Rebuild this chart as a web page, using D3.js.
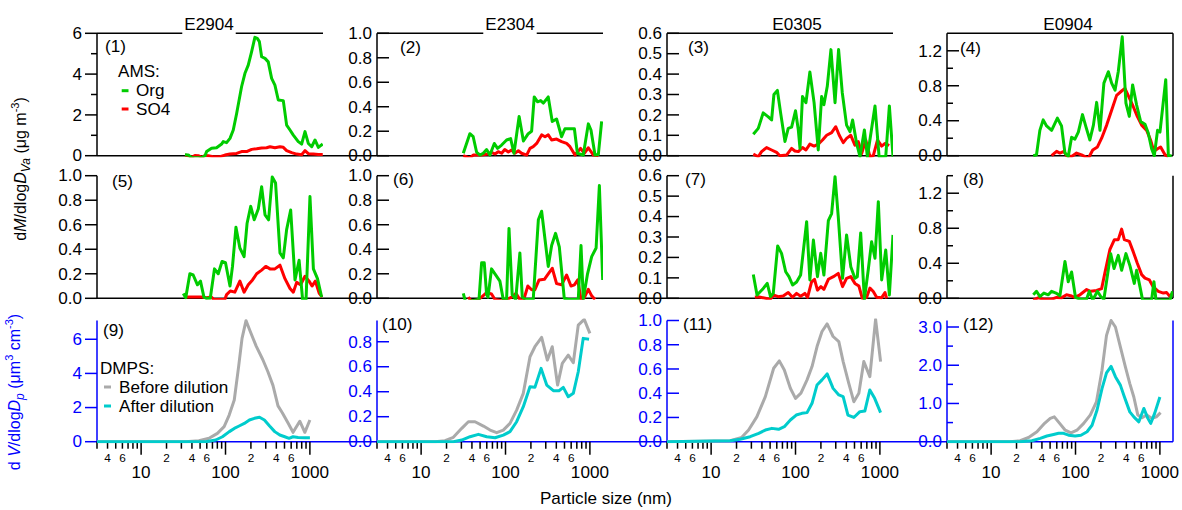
<!DOCTYPE html>
<html><head><meta charset="utf-8">
<script src="https://cdn.jsdelivr.net/npm/d3@7"></script>
<style>body{margin:0;background:#fff} text{font-family:"Liberation Sans",Arial,sans-serif}</style>
</head><body><svg id="c" width="1182" height="510"></svg>
<script>
// ---------------- data ----------------
const titles = ["E2904", "E2304", "E0305", "E0904"];
const panelLabels = ["(1)","(2)","(3)","(4)","(5)","(6)","(7)","(8)","(9)","(10)","(11)","(12)"];
const yMax = [6, 1, 0.6, 1.4, 1, 1, 0.6, 1.4, 7.1, 0.97, 1.0, 3.17];
const yMajor = [[0,2,4,6],[0,0.2,0.4,0.6,0.8,1],[0,0.1,0.2,0.3,0.4,0.5,0.6],[0,0.4,0.8,1.2],
  [0,0.2,0.4,0.6,0.8,1],[0,0.2,0.4,0.6,0.8,1],[0,0.1,0.2,0.3,0.4,0.5,0.6],[0,0.4,0.8,1.2],
  [0,2,4,6],[0,0.2,0.4,0.6,0.8],[0,0.2,0.4,0.6,0.8,1],[0,1,2,3]];
const yTickText = [["0","2","4","6"],["0.0","0.2","0.4","0.6","0.8","1.0"],["0.0","0.1","0.2","0.3","0.4","0.5","0.6"],["0.0","0.4","0.8","1.2"],
  ["0.0","0.2","0.4","0.6","0.8","1.0"],["0.0","0.2","0.4","0.6","0.8","1.0"],["0.0","0.1","0.2","0.3","0.4","0.5","0.6"],["0.0","0.4","0.8","1.2"],
  ["0","2","4","6"],["0.0","0.2","0.4","0.6","0.8"],["0.0","0.2","0.4","0.6","0.8","1.0"],["0.0","1.0","2.0","3.0"]];
const yMinor = [[1,3,5],[],[],[0.2,0.6,1.0],[],[],[],[0.2,0.6,1.0,1.4],[],[],[],[0.5,1.5,2.5]];
const xMinorLabels = [[4,"4"],[6,"6"],[20,"2"],[40,"4"],[60,"6"],[200,"2"],[400,"4"],[600,"6"]];
const xMajorLabels = [[10,"10"],[100,"100"],[1000,"1000"]];
const xMinorTicks = [3,4,5,6,7,8,9,20,30,40,50,60,70,80,90,200,300,400,500,600,700,800,900];

// AMS mass distributions [Dva nm, value]
const org1 = [[33.1,0.05],[36.2,0.04],[39.6,-0.1],[43.4,-0.1],[47.6,-0.1],[52.1,-0.1],[57.1,0],[59.7,0.2],[68.3,0.36],[78.3,0.39],[89.9,0.57],[94,0.69],[103,0.64],[113,0.85],[123.6,1.26],[135.5,2.07],[155,3.38],[170,4.04],[186,4.44],[204,5.1],[223,5.8],[238,5.75],[252,5.59],[268,4.85],[294,4.77],[321,4.6],[352,3.79],[385,3.46],[422,2.73],[484,2.7],[530,1.5],[581,1.26],[636,1.01],[728,0.69],[798,0.57],[875,1.18],[958,0.6],[1050,0.44],[1150,0.77],[1260,0.41],[1420,0.57]];
const so1 = [[33.1,0.03],[36.2,0],[39.6,-0.08],[43.4,0.01],[47.6,0],[52.1,-0.08],[57.1,0.01],[62.4,0],[71.4,-0.05],[85.8,-0.05],[98.4,0.03],[113,0.08],[135.5,0.11],[155,0.2],[178,0.2],[204,0.31],[234,0.34],[268,0.38],[307,0.39],[337,0.44],[385,0.39],[442,0.44],[484,0.41],[530,0.25],[608,0.15],[697,0.08],[798,0.05],[875,0.25],[958,0.1],[1100,0.08],[1260,0.06],[1420,0.06]];
const org2 = [[31.6,0.02],[37.8,0.18],[41.4,0.155],[45.4,0.03],[49.8,0.005],[54.5,0.02],[59.7,0.05],[65.3,0.005],[73.7,0.1],[80.5,0.06],[89.9,0.087],[103,0.128],[115,0.14],[126,0.02],[145,0.32],[163,0.12],[186,0.18],[204,0.2],[219,0.48],[240,0.44],[261,0.45],[281,0.43],[321,0.48],[358,0.28],[403,0.3],[462,0.155],[506,0.22],[581,0.22],[655,0.22],[711,0.02],[835,0.005],[958,0.26],[1030,0.21],[1150,0.005],[1260,0.01],[1378,0.28]];
const so2 = [[31.6,0],[37.8,-0.02],[41.4,0.005],[52,0.005],[62,0.014],[69,0.025],[75,0.014],[82,0.033],[90,0.02],[98,0.05],[108,0.03],[118,0.046],[129,0.02],[142,0.04],[155,0.02],[178,0.005],[195,0.06],[213,0.074],[234,0.1],[268,0.17],[294,0.155],[321,0.17],[352,0.128],[403,0.136],[462,0.115],[530,0.1],[581,0.074],[666,0.005],[775,0.06],[858,0.02],[958,0.065],[1100,0.005],[1260,0]];
const org3 = [[31.6,0.105],[36.2,0.134],[41.4,0.21],[47.6,0.19],[52.1,0.175],[55.5,0.3],[61,0.32],[66.6,0.21],[75,0.07],[82,0.134],[89.9,0.14],[100,0.22],[108,0.126],[113,0.036],[121,0.29],[133,0.26],[148,0.41],[166,0.26],[186,0.028],[204,0.29],[217,0.25],[238,0.34],[263,0.52],[294,0.26],[324,0.52],[358,0.31],[403,0.15],[442,0.118],[475,0.175],[530,0.06],[581,-0.005],[655,0.126],[711,-0.005],[875,0.244],[978,-0.005],[1173,-0.003],[1295,0.244],[1430,-0.005]];
const so3 = [[31.6,0.008],[36.2,-0.005],[39.6,0.02],[45.4,0.04],[52.1,0.028],[59.7,0.016],[65.3,0],[78.3,0.003],[89.9,0.036],[98.4,0.023],[108,0.02],[121,0.04],[133,0.028],[148,0.057],[166,0.047],[186,0.057],[209,0.077],[234,0.1],[268,0.113],[300,0.142],[330,0.1],[368,0.064],[403,0.085],[452,0.1],[506,0.052],[554,0.069],[608,0.011],[680,0.077],[762,-0.005],[835,0],[938,0.077],[1050,0.047],[1150,0.06],[1290,0.05]];
const org4 = [[31.6,0],[34.5,0.01],[37.8,0.29],[41.4,0.41],[45.4,0.34],[52.1,0.29],[61,0.43],[68.3,0.34],[75,0.03],[82,-0.01],[89.9,0.21],[98.4,0.19],[108,0.27],[121,0.47],[133,0.33],[148,0.18],[163,0.35],[178,0.61],[195,0.29],[217,0.83],[245,0.96],[268,0.83],[294,0.75],[321,0.96],[358,1.36],[396,0.6],[434,0.45],[475,0.81],[530,0.58],[592,0.39],[666,0.36],[728,0.26],[798,0.08],[858,0],[938,0.29],[1002,0.27],[1173,0.87],[1260,0],[1378,0]];
const so4 = [[52.1,0],[59.7,0.05],[65.3,0.03],[73,0.05],[78.3,0],[89.9,-0.01],[103,0.03],[118,0.01],[142,-0.03],[160,0.065],[182,0.1],[204,0.2],[234,0.35],[268,0.52],[307,0.69],[352,0.74],[385,0.77],[434,0.66],[484,0.56],[540,0.45],[608,0.35],[697,0.29],[775,0.18],[850,0.05],[938,0.08],[1020,0.1],[1150,0.01],[1260,-0.01]];
const org5 = [[31.6,0.04],[33.8,0.005],[37.8,0.2],[41.4,0.19],[46.5,0.11],[50.5,0.14],[55.5,0.01],[59.7,0],[66,0],[74,0.24],[82,0.2],[91,0.3],[100,0.29],[113,0.1],[121,0.26],[133,0.58],[148,0.41],[166,0.34],[180,0.61],[199,0.75],[219,0.64],[245,0.73],[268,0.91],[294,0.68],[324,0.64],[358,0.99],[392,0.94],[442,0.37],[484,0.33],[530,0.56],[592,0.72],[666,0.15],[745,0.31],[820,-0.01],[900,-0.01],[1002,0.83],[1100,0.24],[1230,0.16],[1378,0.01]];
const so5 = [[33.8,0.01],[41.4,0.01],[52,0.01],[59.7,0.005],[68,0.01],[73,-0.01],[98,-0.01],[103,0.03],[114,0.06],[129,0.05],[148,0.14],[166,0.05],[186,0.11],[209,0.15],[234,0.2],[268,0.23],[300,0.26],[337,0.24],[385,0.24],[442,0.27],[506,0.16],[581,0.08],[636,0.05],[697,0.13],[775,0.11],[875,0.18],[978,0.14],[1060,0.1],[1160,0.14],[1290,0.04],[1400,0.01]];
const org6 = [[31.6,0.04],[33.6,-0.03],[48.5,-0.01],[52.1,0.29],[56,0.29],[59.7,0.03],[62,0.01],[68.3,0.24],[75,0.2],[85.8,0.14],[94,-0.01],[103,-0.01],[110,0.57],[120,0.03],[132,-0.01],[148,0.37],[158,0.01],[173,-0.01],[213,-0.01],[245,0.64],[268,0.71],[294,0.48],[321,0.26],[352,0.43],[392,0.53],[434,0.42],[497,0],[554,-0.01],[728,-0.01],[785,0.43],[835,-0.005],[938,0.2],[1050,0.34],[1185,0.41],[1295,0.92],[1418,0.15]];
const so6 = [[36.2,0.01],[39,-0.02],[45.4,-0.02],[52,0.01],[59.7,0.046],[68.3,0.035],[75,-0.01],[90,-0.02],[103,-0.01],[118,0.01],[133,0.04],[148,-0.01],[163,-0.02],[184,0.1],[204,0.07],[223,0.07],[250,0.15],[289,0.155],[321,0.2],[358,0.245],[403,0.12],[462,0.11],[530,0.19],[597,0.1],[655,0.11],[718,0.15],[785,-0.01],[858,0.005],[958,0.073],[1050,0.02],[1150,-0.01]];
const org7 = [[31.6,0.117],[35,0.016],[40.7,0.044],[46.2,0.073],[50.6,0.008],[54.5,0.024],[61.5,0.256],[68.3,0.22],[76.5,0.13],[83.6,0.106],[92.3,0.065],[103,0.08],[115,0.114],[135.5,0.375],[148,0.09],[163,0.285],[182,0.106],[199,0.22],[217,0.114],[245,0.38],[268,0.415],[294,0.595],[321,0.4],[361,0.098],[403,0.31],[452,0.155],[506,0.098],[540,0.106],[592,0.32],[655,-0.005],[728,0.14],[798,0.277],[875,0.196],[958,0.473],[1050,0.09],[1173,0.236],[1295,0.016],[1430,0.31]];
const so7 = [[33.1,0.005],[36,0.008],[50,-0.005],[55.5,0.016],[62.4,0.008],[71.4,0.011],[82,0.028],[92,0.005],[103,0.024],[115,0.01],[129,0.024],[139,0.005],[155,0.08],[168,0.093],[182,0.04],[200,0.057],[217,0.044],[245,0.093],[281,0.106],[321,0.122],[361,0.057],[403,0.098],[452,0.106],[506,0.073],[564,0.06],[619,0],[697,0.005],[762,0.05],[835,0.033],[915,0.005],[1050,0.003],[1150,0.028],[1203,0]];
const org8 = [[31.6,0.04],[34.5,0.08],[37.8,0.02],[42.2,0.06],[47.6,0.04],[52.1,0.08],[58.7,0.06],[65.3,0.03],[75,0.42],[82,0.19],[89.9,0.3],[100,0.01],[113,-0.01],[135,-0.01],[146,0.08],[160,-0.02],[182,0.08],[199,0.02],[217,-0.01],[261,0.51],[286,0.34],[321,0.49],[352,0.32],[396,0.51],[442,0.37],[497,0.17],[530,0.32],[581,0.13],[624,-0.02],[798,-0.02],[850,0.19],[899,-0.02],[1317,-0.02],[1410,0.08]];
const so8 = [[31.6,-0.02],[36,0.005],[42,-0.01],[52,-0.01],[59.7,0.01],[68,0.005],[78.3,0.04],[87.5,0.03],[98,0.01],[113,0.04],[135.5,0.1],[151,0.08],[178,0.09],[204,0.11],[223,0.29],[256,0.56],[289,0.67],[321,0.67],[352,0.79],[379,0.67],[434,0.65],[484,0.53],[540,0.4],[608,0.27],[666,0.23],[751,0.21],[835,0.13],[958,0.08],[1100,0.06],[1203,0.065],[1317,0.02],[1410,0.06]];

// DMPS volume distributions [Dp nm, value]
const before9 = [[3,0],[33.6,0],[48.4,0.06],[63.8,0.2],[80.2,0.49],[96.3,0.88],[110.6,1.56],[127,2.44],[143,4.4],[157,6.05],[175,7.09],[195,6.5],[231,5.6],[277,4.8],[318,4.1],[365,3.3],[419,2.1],[471,1.7],[551,1.1],[632,0.55],[759,1.2],[871,0.55],[1000,1.27]];
const after9 = [[3,0],[58.2,0],[76.5,0.1],[92,0.29],[111,0.59],[127,0.78],[145,0.92],[167,1.07],[192,1.27],[220,1.37],[253,1.43],[289,1.27],[333,0.92],[383,0.59],[440,0.39],[504,0.29],[566,0.2],[632,0.29],[725,0.25],[871,0.23],[1000,0.23]];
const before10 = [[3,0],[14.6,0],[19.2,0.008],[24.1,0.035],[30.3,0.107],[36.3,0.16],[43.5,0.16],[54.7,0.125],[65.6,0.093],[78.6,0.072],[94.2,0.093],[113,0.147],[135.5,0.253],[162.5,0.387],[195,0.68],[223,0.76],[268,0.835],[313,0.653],[358,0.76],[414,0.453],[471,0.627],[554,0.693],[636,0.632],[728,0.933],[857,0.979],[1000,0.867]];
const after10 = [[3,0],[24.1,0],[30.3,0.013],[38,0.04],[47.7,0.059],[59.9,0.04],[75.2,0.032],[94.2,0.053],[113,0.08],[135.5,0.16],[162.5,0.28],[195,0.44],[223,0.435],[264,0.587],[308,0.453],[369,0.408],[430,0.408],[484,0.435],[554,0.36],[636,0.387],[728,0.56],[833,0.827],[977,0.82]];
const before11 = [[3,0],[16.8,0.008],[23.1,0.036],[27.8,0.096],[34.9,0.207],[43.9,0.372],[55.1,0.606],[64.3,0.667],[73.7,0.592],[86.9,0.441],[100,0.358],[116,0.4],[137,0.51],[157,0.62],[180,0.785],[206,0.909],[237,0.972],[279,0.868],[326,0.826],[367,0.661],[428,0.482],[491,0.33],[563,0.4],[645,0.661],[760,0.537],[889,1.01],[1019,0.661]];
const after11 = [[3,0],[16.8,0.008],[22.1,0.02],[29,0.041],[36.6,0.069],[43.9,0.096],[52.5,0.11],[63,0.102],[73.7,0.124],[86.9,0.179],[102,0.22],[119,0.234],[137,0.24],[157,0.317],[180,0.468],[206,0.51],[237,0.559],[279,0.44],[326,0.386],[367,0.372],[418,0.22],[491,0.2],[579,0.248],[663,0.253],[760,0.427],[867,0.358],[1019,0.24]];
const before12 = [[3,0],[16.8,0],[22.1,0.026],[27.8,0.11],[34.9,0.26],[43,0.48],[50.2,0.61],[56.1,0.65],[64.9,0.48],[75.6,0.3],[88.4,0.23],[104,0.3],[125,0.48],[150,0.7],[177,1.04],[206,1.87],[233,2.78],[264,3.17],[297,3.0],[340,2.48],[390,1.96],[440,1.52],[491,1.17],[547,0.7],[615,0.63],[700,0.7],[805,0.61],[907,0.65],[1019,0.76]];
const after12 = [[3,0],[22.1,0],[30.4,0.026],[38.2,0.087],[45.8,0.15],[55,0.19],[63,0.22],[72.3,0.22],[82.8,0.17],[99,0.15],[116,0.17],[137,0.26],[157,0.43],[180,0.83],[206,1.39],[233,1.8],[264,1.97],[297,1.7],[340,1.48],[380,1.17],[440,0.78],[491,0.65],[563,0.52],[645,0.87],[720,0.61],[778,0.48],[867,0.74],[1000,1.17]];

const orgAll = [org1,org2,org3,org4,org5,org6,org7,org8];
const so4All = [so1,so2,so3,so4,so5,so6,so7,so8];
const beforeAll = [before9,before10,before11,before12];
const afterAll = [after9,after10,after11,after12];

// ---------------- layout / style ----------------
const C = {green:"#00cc00", red:"#ff0000", gray:"#aaaaaa", cyan:"#00cccc", blue:"#0000ff", black:"#000"};
const colL = [97, 377, 667, 947], PW = 226;
const rowT = [33.3, 175.7, 320.5], rowB = [155.7, 298.3, 441.7];
const SX = 1.07, FS = 16;
const svg = d3.select("#c");
svg.append("rect").attr("width",1182).attr("height",510).attr("fill","#fff");
const defs = svg.append("defs");

function txt(g, x, y, s, o = {}) {
  const t = g.append("text")
    .attr("transform", `translate(${x},${y}) scale(${o.sx ?? SX},1)`)
    .attr("font-size", o.fs ?? FS).attr("fill", o.fill ?? "#000")
    .attr("text-anchor", o.anchor ?? "start");
  if (o.dy) t.attr("dy", o.dy);
  t.text(s);
  return t;
}

const axisG = svg.append("g");
const lineG = svg.append("g");
const textG = svg.append("g");

for (let i = 0; i < 12; i++) {
  const row = Math.floor(i / 4), col = i % 4;
  const x0 = colL[col], x1 = x0 + PW, yt = rowT[row], yb = rowB[row];
  const ac = row === 2 ? C.blue : C.black;
  const x = d3.scaleLog().domain([3, 1430]).range([x0, x1]);
  const y = d3.scaleLinear().domain([0, yMax[i]]).range([yb, yt]);

  // clip
  defs.append("clipPath").attr("id", "cp" + i).append("rect")
    .attr("x", x0).attr("y", yt - 2).attr("width", PW).attr("height", yb - yt + 3.5);

  // left axis line
  axisG.append("line").attr("x1", x0).attr("x2", x0).attr("y1", yt).attr("y2", yb)
    .attr("stroke", ac).attr("stroke-width", 1.5);
  // bottom line (extends across to next panel)
  const bx2 = col < 3 ? colL[col + 1] : x1;
  axisG.append("line").attr("x1", x0).attr("x2", bx2).attr("y1", yb).attr("y2", yb)
    .attr("stroke", ac).attr("stroke-width", 1.5);
  if (row === 0) axisG.append("line").attr("x1", x0).attr("x2", x1).attr("y1", yt).attr("y2", yt)
    .attr("stroke", ac).attr("stroke-width", 1.5);
  if (col === 3) axisG.append("line").attr("x1", x1).attr("x2", x1).attr("y1", yt).attr("y2", yb)
    .attr("stroke", ac).attr("stroke-width", 1.5);

  // y ticks
  const dir = col === 0 ? -1 : 1;
  yMajor[i].forEach((v, k) => {
    axisG.append("line").attr("x1", x0).attr("x2", x0 + dir * 12).attr("y1", y(v)).attr("y2", y(v))
      .attr("stroke", ac).attr("stroke-width", 1.5);
    const lx = col === 0 ? x0 - 15 : x0 - 5;
    txt(textG, lx, y(v), yTickText[i][k], {anchor: "end", fill: ac, dy: "0.36em"});
  });
  yMinor[i].forEach(v => {
    axisG.append("line").attr("x1", x0).attr("x2", x0 + dir * 6).attr("y1", y(v)).attr("y2", y(v))
      .attr("stroke", ac).attr("stroke-width", 1.5);
  });

  // x ticks on bottom row
  if (row === 2) {
    xMinorTicks.forEach(v => axisG.append("line").attr("x1", x(v)).attr("x2", x(v))
      .attr("y1", yb).attr("y2", yb + 7).attr("stroke", C.black).attr("stroke-width", 1.5));
    xMajorLabels.forEach(([v, s]) => {
      axisG.append("line").attr("x1", x(v)).attr("x2", x(v)).attr("y1", yb).attr("y2", yb + 13)
        .attr("stroke", C.black).attr("stroke-width", 1.5);
      txt(textG, x(v), 478, s, {anchor: "middle"});
    });
    xMinorLabels.forEach(([v, s]) => txt(textG, x(v), 461.5, s, {anchor: "middle", fs: 11}));
  }

  // data lines
  const line = d3.line().x(d => x(d[0])).y(d => y(d[1]));
  const series = row < 2
    ? [[so4All[i], C.red], [orgAll[i], C.green]]
    : [[beforeAll[col], C.gray], [afterAll[col], C.cyan]];
  const lg = lineG.append("g").attr("clip-path", `url(#cp${i})`);
  series.forEach(([data, color]) => {
    lg.append("path").datum(data).attr("d", line).attr("fill", "none")
      .attr("stroke", color).attr("stroke-width", 3).attr("stroke-linejoin", "round");
  });

  // panel label
  const plx = [105, 400, 688, 960, 112, 393, 685, 963, 103, 382, 683, 963][i];
  const ply = [52, 53, 53, 54, 187, 185, 185, 185, 336, 330, 330, 330][i];
  txt(textG, plx, ply, panelLabels[i]);
}

// titles
const titleX = [209, 510, 797, 1068];
titles.forEach((t, c) => {
  const tt = txt(textG, titleX[c], 29.5, t, {anchor: "middle"});
  if (c < 2) {
    const bb = tt.node().getBBox();
    const w = bb.width * SX;
    textG.insert("rect", "text").attr("x", titleX[c] - w / 2 - 2).attr("y", 14).attr("width", w + 4).attr("height", 21)
      .attr("fill", "#fff");
  }
});

// legends
txt(textG, 118, 77, "AMS:");
[[C.green, "Org", 90.7], [C.red, "SO4", 109]].forEach(([c, s, yy]) => {
  textG.append("line").attr("x1", 121.7).attr("x2", 128.5).attr("y1", yy).attr("y2", yy).attr("stroke", c).attr("stroke-width", 3);
  txt(textG, 136, yy, s, {dy: "0.36em"});
});
txt(textG, 100, 368, "DMPS:", {dy: "0.36em"});
[[C.gray, "Before dilution", 387], [C.cyan, "After dilution", 406]].forEach(([c, s, yy]) => {
  textG.append("line").attr("x1", 104).attr("x2", 111).attr("y1", yy).attr("y2", yy).attr("stroke", c).attr("stroke-width", 3);
  txt(textG, 119, yy, s, {dy: "0.36em"});
});

// y axis titles
const yt1 = textG.append("text").attr("transform", "translate(26,169) rotate(-90)")
  .attr("text-anchor", "middle").attr("font-size", 16).attr("fill", "#000");
yt1.append("tspan").text("d");
yt1.append("tspan").attr("font-style", "italic").text("M");
yt1.append("tspan").text("/dlog");
yt1.append("tspan").attr("font-style", "italic").text("D");
yt1.append("tspan").attr("font-style", "italic").attr("font-size", 12).attr("dy", 4).text("Va");
yt1.append("tspan").attr("dy", -4).text(" (μg m");
yt1.append("tspan").attr("font-size", 11).attr("dy", -7).text("-3");
yt1.append("tspan").attr("dy", 7).text(")");

const yt2 = textG.append("text").attr("transform", "translate(20,392) rotate(-90)")
  .attr("text-anchor", "middle").attr("font-size", 16).attr("fill", C.blue);
yt2.append("tspan").text("d ");
yt2.append("tspan").attr("font-style", "italic").text("V");
yt2.append("tspan").text("/dlog");
yt2.append("tspan").attr("font-style", "italic").text("D");
yt2.append("tspan").attr("font-style", "italic").attr("font-size", 12).attr("dy", 4).text("p");
yt2.append("tspan").attr("dy", -4).text(" (μm");
yt2.append("tspan").attr("font-size", 11).attr("dy", -7).text("3");
yt2.append("tspan").attr("dy", 7).text(" cm");
yt2.append("tspan").attr("font-size", 11).attr("dy", -7).text("-3");
yt2.append("tspan").attr("dy", 7).text(")");

// x axis title
txt(textG, 606, 504, "Particle size (nm)", {anchor: "middle"});
</script></body></html>
